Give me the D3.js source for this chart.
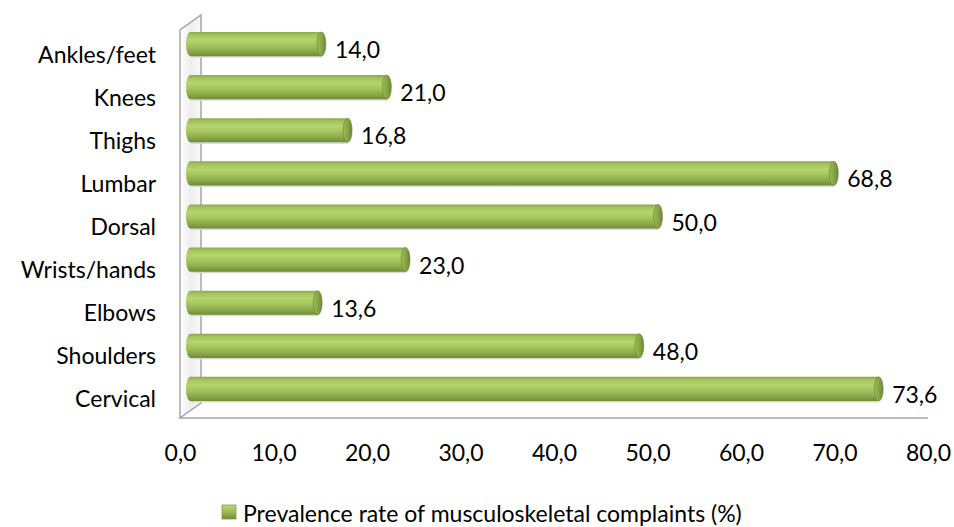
<!DOCTYPE html>
<html>
<head>
<meta charset="utf-8">
<script src="https://cdn.jsdelivr.net/npm/d3@7"></script>
<style>
  html, body { margin: 0; padding: 0; background: #fff; }
  svg { display: block; font-family: Lato, "Open Sans", sans-serif; }
</style>
</head>
<body>
<svg id="chart" width="954" height="527"></svg>
<script>
// Body regions, listed top to bottom as shown
const categories = ["Ankles/feet", "Knees", "Thighs", "Lumbar", "Dorsal",
                    "Wrists/hands", "Elbows", "Shoulders", "Cervical"];
const values = [14.0, 21.0, 16.8, 68.8, 50.0, 23.0, 13.6, 48.0, 73.6];
const xTicks = [0, 10, 20, 30, 40, 50, 60, 70, 80];
const seriesName = "Prevalence rate of musculoskeletal complaints (%)";

const svg = d3.select("#chart");
const fmt = v => d3.format(".1f")(v).replace(".", ",");
const fontSize = 23;

// Front plane of the 3-D plot box
const boxLeft = 180, boxRight = 928, boxTop = 30, boxBottom = 418;
// Depth of the box (back wall offset)
const depthX = 21, depthY = -15;
// Cylinders sit halfway into the depth
const midX = depthX / 2, midY = depthY / 2;

const x = d3.scaleLinear().domain([0, 80]).range([boxLeft, boxRight]);
const y = d3.scaleBand().domain(categories).range([boxTop, boxBottom]).paddingInner(0.44).paddingOuter(0.22);

// Gradients
const defs = svg.append("defs");
const body = defs.append("linearGradient").attr("id", "cylBody")
  .attr("x1", 0).attr("y1", 0).attr("x2", 0).attr("y2", 1);
[[0, "#8ba84b"], [0.12, "#a3c35d"], [0.32, "#b4d46d"], [0.5, "#a9ca62"],
 [0.78, "#8dac4c"], [1, "#6f8c37"]].forEach(([o, c]) =>
  body.append("stop").attr("offset", o).attr("stop-color", c));
const cap = defs.append("linearGradient").attr("id", "cylCap")
  .attr("x1", 0).attr("y1", 0).attr("x2", 1).attr("y2", 0);
[[0, "#9dbd58"], [0.6, "#82a145"], [1, "#6a8634"]].forEach(([o, c]) =>
  cap.append("stop").attr("offset", o).attr("stop-color", c));
const wall = defs.append("linearGradient").attr("id", "sideWall")
  .attr("x1", 0).attr("y1", 0).attr("x2", 1).attr("y2", 0);
[[0, "#ffffff"], [0.5, "#eeeeee"], [1, "#f8f8f8"]].forEach(([o, c]) =>
  wall.append("stop").attr("offset", o).attr("stop-color", c));
const legG = defs.append("linearGradient").attr("id", "legSwatch")
  .attr("x1", 0).attr("y1", 0).attr("x2", 0).attr("y2", 1);
[[0, "#b9d775"], [0.5, "#9bbb59"], [1, "#6f8c37"]].forEach(([o, c]) =>
  legG.append("stop").attr("offset", o).attr("stop-color", c));

// Plot box: side wall and floor edges
svg.append("path")
  .attr("d", `M${boxLeft},${boxTop} L${boxLeft + depthX},${boxTop + depthY} L${boxLeft + depthX},${boxBottom + depthY} L${boxLeft},${boxBottom} Z`)
  .attr("fill", "url(#sideWall)");
const frame = svg.append("g").attr("fill", "none").attr("stroke", "#a6a6a6").attr("stroke-width", 1.5);
frame.append("path")
  .attr("d", `M${boxLeft},${boxBottom} L${boxLeft},${boxTop} L${boxLeft + depthX},${boxTop + depthY} L${boxLeft + depthX},${boxBottom + depthY} L${boxLeft},${boxBottom} L${boxRight},${boxBottom}`);

// Cylinders
const rx = 4.5;
const bars = svg.append("g");
categories.forEach((c, i) => {
  const v = values[i];
  const x0 = x(0) + midX, x1 = x(v) + midX;
  const y0 = y(c) + midY, h = y.bandwidth(), ry = h / 2;
  const g = bars.append("g");
  // faint shadow on the floor side
  g.append("rect").attr("x", x0).attr("y", y0 + h - 0.5).attr("width", x1 - x0).attr("height", 2)
    .attr("fill", "#d9d9d9");
  g.append("path")
    .attr("d", `M${x1},${y0} L${x0},${y0} A${rx},${ry} 0 0 0 ${x0},${y0 + h} L${x1},${y0 + h} Z`)
    .attr("fill", "url(#cylBody)");
  g.append("ellipse").attr("cx", x1).attr("cy", y0 + ry).attr("rx", rx).attr("ry", ry)
    .attr("fill", "url(#cylCap)").attr("stroke", "#6a8634").attr("stroke-width", 0.6);
  // value label
  svg.append("text").attr("x", x1 + rx + 9).attr("y", y0 + ry + 5)
    .attr("dominant-baseline", "central").attr("font-size", fontSize).attr("fill", "#000")
    .text(fmt(v));
});

// Category labels
svg.append("g").selectAll("text").data(categories).join("text")
  .attr("x", 156).attr("y", d => y(d) + y.bandwidth() / 2 + 2)
  .attr("text-anchor", "end").attr("dominant-baseline", "central")
  .attr("font-size", fontSize).attr("fill", "#000").text(d => d);

// X axis tick labels
const xAxis = d3.axisBottom(x).tickValues(xTicks).tickFormat(fmt).tickSize(0).tickPadding(0);
const ax = svg.append("g").attr("transform", `translate(0,${boxBottom + 34})`).call(xAxis);
ax.select(".domain").remove();
ax.selectAll("text").attr("font-size", fontSize).attr("font-family", "Lato, 'Open Sans', sans-serif")
  .attr("fill", "#000").attr("dy", null).attr("dominant-baseline", "central");

// Legend
const leg = svg.append("g").attr("transform", "translate(222,505)");
leg.append("rect").attr("width", 14).attr("height", 14).attr("fill", "url(#legSwatch)")
  .attr("stroke", "#7f9e44").attr("stroke-width", 0.8);
leg.append("text").attr("x", 21).attr("y", 8).attr("dominant-baseline", "central")
  .attr("font-size", fontSize).attr("fill", "#000").text(seriesName);
</script>
</body>
</html>
